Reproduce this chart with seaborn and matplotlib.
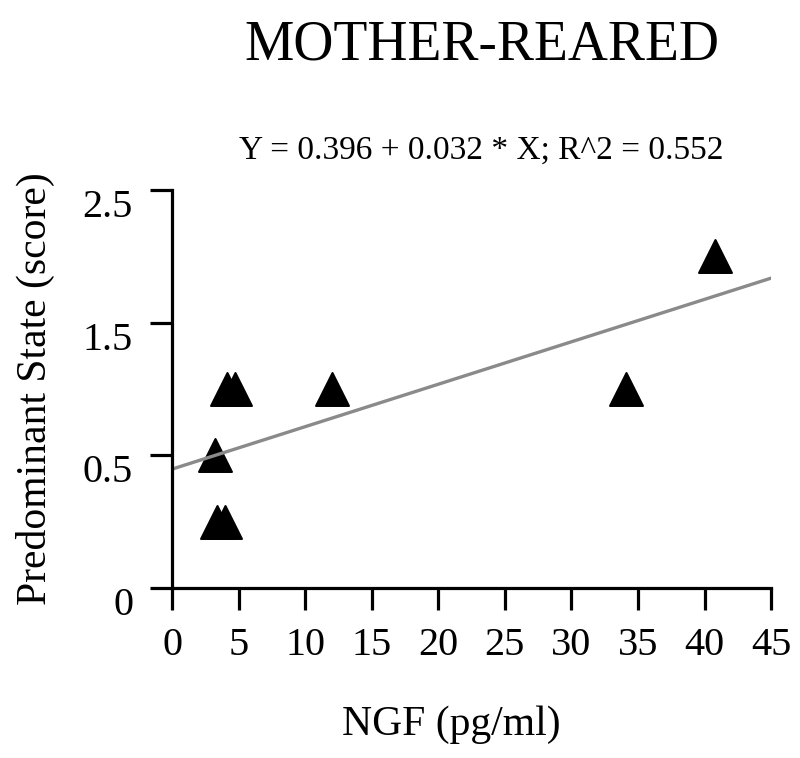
import numpy as np
import pandas as pd
import matplotlib
matplotlib.use("Agg")
import matplotlib.pyplot as plt
import matplotlib.transforms as mtransforms
import seaborn as sns

# data
ngf = [3.2, 3.4, 4.0, 4.1, 4.7, 12.0, 34.1, 40.8]
state = [0.5, 0.0, 0.0, 1.0, 1.0, 1.0, 1.0, 2.0]

intercept = 0.396
slope = 0.032
r2 = 0.552

x_ticks = [0, 5, 10, 15, 20, 25, 30, 35, 40, 45]
y_ticks = [-0.5, 0.5, 1.5, 2.5]
y_tick_labels = ["0", "0.5", "1.5", "2.5"]

title = "MOTHER-REARED"
x_label = "NGF (pg/ml)"
y_label = "Predominant State (score)"

sns.set_theme(style="ticks")
plt.rcParams['font.family'] = ['Liberation Serif', 'DejaVu Serif']
plt.rcParams['text.color'] = 'black'
plt.rcParams['axes.labelcolor'] = 'black'

df = pd.DataFrame({"NGF": ngf, "State": state})

fig = plt.figure(figsize=(8, 7.58), dpi=100)
ax = fig.add_axes([0.215, 0.2243, 0.749, 0.525])

sns.scatterplot(data=df, x="NGF", y="State", marker="^", s=560, color="black",
                edgecolor="black", linewidth=1.5, ax=ax, zorder=1)

fit_x = np.array([x_ticks[0], x_ticks[-1]])
sns.lineplot(x=fit_x, y=intercept + slope * fit_x, color="#8a8a8a", linewidth=2.4, ax=ax, zorder=2)

ax.set_xlim(x_ticks[0], x_ticks[-1])
ax.set_ylim(y_ticks[0], y_ticks[-1])
ax.set_xticks(x_ticks)
ax.set_xticklabels([str(t) for t in x_ticks])
ax.set_yticks(y_ticks)
ax.set_yticklabels(y_tick_labels)

for side in ["top", "right"]:
    ax.spines[side].set_visible(False)
for side in ["left", "bottom"]:
    ax.spines[side].set_linewidth(2.3)
    ax.spines[side].set_color("black")

ax.tick_params(axis="both", direction="out", length=16, width=2.3, colors="black",
               labelsize=29)
ax.tick_params(axis="y", pad=12)
ax.tick_params(axis="x", pad=12)

# the y tick labels sit a little below their ticks in the original
shift = mtransforms.ScaledTranslation(0, -0.13, fig.dpi_scale_trans)
for lab in ax.get_yticklabels():
    lab.set_transform(lab.get_transform() + shift)

ax.set_xlabel(x_label, fontsize=30, labelpad=30)
ax.xaxis.label.set_x(0.466)
ax.set_ylabel(y_label, fontsize=30, labelpad=20)

fig.text(0.602, 0.940, title, fontsize=40, ha="center", va="center")
fig.text(0.601, 0.802, f"Y = {intercept} + {slope} * X; R^2 = {r2}",
         fontsize=24, ha="center", va="center")

fig.savefig("out.png", dpi=100)
